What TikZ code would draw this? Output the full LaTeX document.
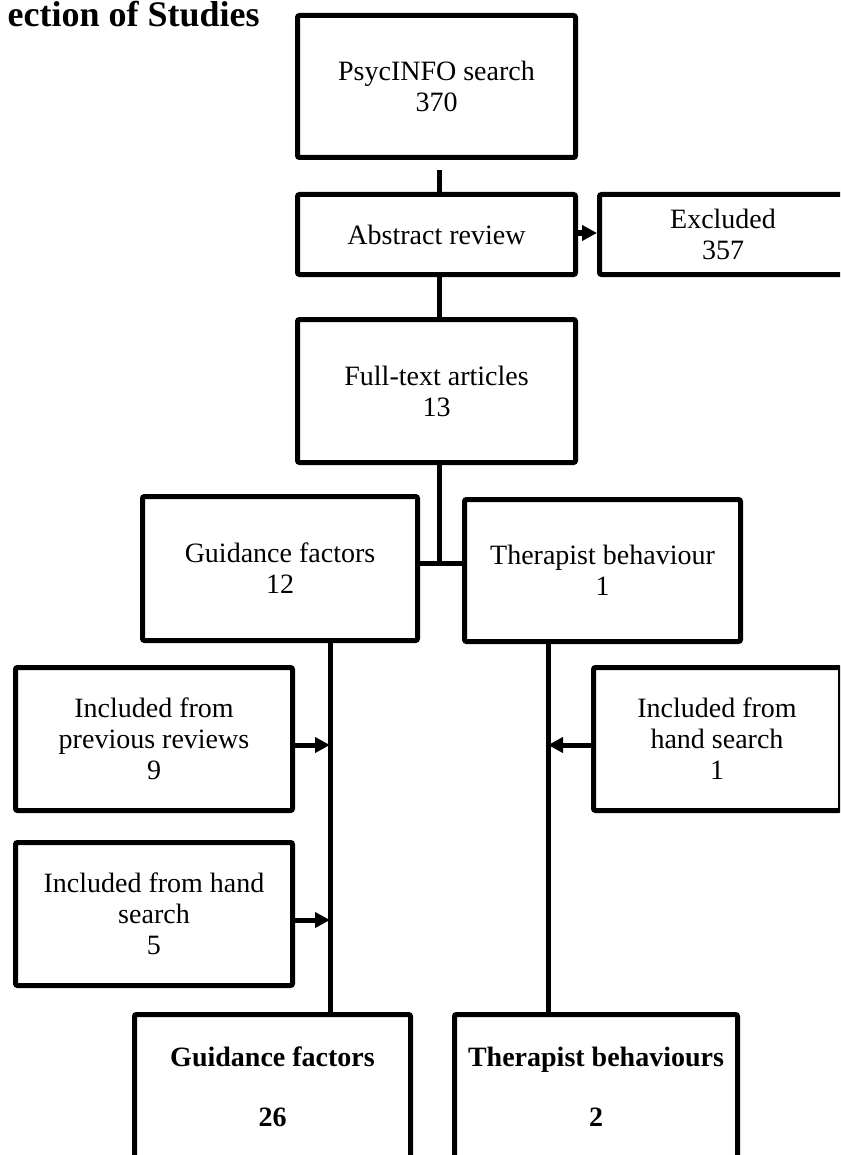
\documentclass[tikz,border=0pt]{standalone}
\usepackage{fontspec}
\setmainfont{Liberation Serif}
\usepackage{xcolor}
\usepackage{tikz}
\usetikzlibrary{arrows.meta,calc}
\definecolor{trazo}{RGB}{0,0,0}

\begin{document}
\begin{tikzpicture}[x=0.5pt,y=-0.5pt,
		caja/.style={draw=trazo,line width=2.5pt,rounded corners=1pt,align=center,
			inner sep=2pt,font=\fontsize{14}{15.5}\selectfont},
		total/.style={caja,font=\fontsize{14}{15.5}\selectfont\bfseries},
		linea/.style={draw=trazo,line width=2.5pt},
		flecha/.style={linea,-{Triangle[length=7.5pt,width=7.5pt]}}]
	\useasboundingbox (0,0) rectangle (840,1155);
	\clip (0,0) rectangle (840,1155);

	\node[anchor=base east,inner sep=0pt,font=\fontsize{18}{20}\selectfont\bfseries] (titulo) at (260,27) {ection of Studies};

	% busqueda y cribado
	\node[caja,minimum width=139pt,minimum height=71pt] (psyc) at (436.5,86.5) {PsycINFO search\\370};
	\node[caja,minimum width=139pt,minimum height=40pt] (abstract) at (436.5,234.5) {Abstract review};
	\node[caja,minimum width=123.5pt,minimum height=40pt] (excluded) at (723,234.5) {Excluded\\357};
	\node[caja,minimum width=139pt,minimum height=71.5pt] (fulltext) at (436.5,391) {Full-text articles\\13};

	% dos ramas
	\node[caja,minimum width=137.5pt,minimum height=72pt] (guid) at (280,568.5) {Guidance factors\\12};
	\node[caja,minimum width=138pt,minimum height=71pt] (ther) at (602.5,570.5) {Therapist behaviour\\1};
	\node[caja,minimum width=138.5pt,minimum height=71.5pt] (prev) at (154,739) {Included from\\previous reviews\\9};
	\node[caja,minimum width=138.5pt,minimum height=71.5pt] (handL) at (154,914) {Included from hand\\search\\5};
	\node[caja,minimum width=123.5pt,minimum height=71.5pt] (handR) at (717,739) {Included from\\hand search\\1};
	\node[total,minimum width=138pt,minimum height=72.5pt] (guidtot) at (272.5,1087) {Guidance factors\\[14.5pt]26};
	\node[total,minimum width=141.5pt,minimum height=72.5pt] (thertot) at (596,1087) {Therapist behaviours\\[14.5pt]2};

	\coordinate (split) at (439,563);
	\coordinate (glinea) at (330,0);
	\coordinate (tlinea) at (548,0);

	\draw[linea,shorten <=5pt] (psyc.south -| split) -- (abstract.north -| split);
	\draw[linea] (abstract.south -| split) -- (fulltext.north -| split);
	\draw[flecha] ([yshift=0.75pt]abstract.east) -- ([yshift=0.75pt]excluded.west);
	\draw[linea] (fulltext.south -| split) -- (split);
	\draw[linea] (guid.east |- split) -- (ther.west |- split);

	\draw[linea] (glinea |- guid.south) -- (glinea |- guidtot.north);
	\draw[linea] (tlinea |- ther.south) -- (tlinea |- thertot.north);
	\draw[flecha] ([yshift=-3pt]prev.east) -- ([yshift=-3pt]prev.east -| glinea);
	\draw[flecha] ([yshift=-3pt]handL.east) -- ([yshift=-3pt]handL.east -| glinea);
	\draw[flecha] ([yshift=-3pt]handR.west) -- ([yshift=-3pt]handR.west -| tlinea);
\end{tikzpicture}
\end{document}
